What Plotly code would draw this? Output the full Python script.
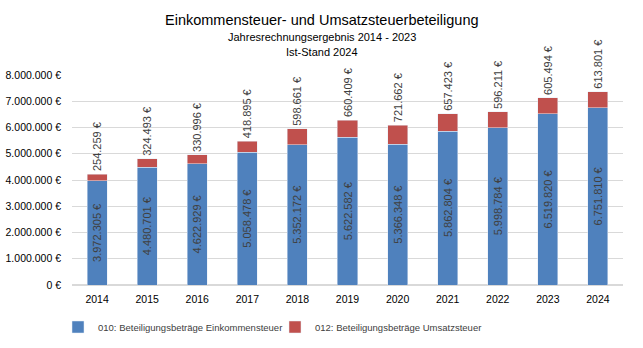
import plotly.graph_objects as go

years = ["2014", "2015", "2016", "2017", "2018", "2019", "2020", "2021", "2022", "2023", "2024"]
einkommen = [3972305, 4480701, 4622929, 5058478, 5352172, 5622582, 5366348, 5862804, 5998784, 6519820, 6751810]
umsatz = [254259, 324493, 330996, 418895, 598661, 660409, 721662, 657423, 596211, 605494, 613801]
y_ticks = [0, 1000000, 2000000, 3000000, 4000000, 5000000, 6000000, 7000000, 8000000]


def fmt(v):
    return f"{v:,}".replace(",", ".") + " €"


label_font = dict(family="Liberation Sans, Arial", size=11, color="#404040")

fig = go.Figure()
fig.add_trace(go.Bar(
    x=years, y=einkommen, name="010: Beteiligungsbeträge Einkommensteuer",
    marker_color="#4F81BD", text=[fmt(v) for v in einkommen],
    textposition="inside", insidetextanchor="middle", textangle=-90,
    textfont=label_font, constraintext="none", cliponaxis=False,
))
fig.add_trace(go.Bar(
    x=years, y=umsatz, name="012: Beteiligungsbeträge Umsatzsteuer",
    marker_color="#C0504D", text=[fmt(v) for v in umsatz],
    textposition="outside", textangle=-90,
    textfont=label_font, constraintext="none", cliponaxis=False,
))

tick_font = dict(family="Liberation Sans, Arial, sans-serif", size=10.5, color="#000000")

fig.update_layout(
    width=643, height=348,
    margin=dict(l=72, r=20, t=75, b=63, autoexpand=False),
    barmode="stack", bargap=0.6,
    paper_bgcolor="white", plot_bgcolor="white",
    showlegend=True,
    legend=dict(orientation="h", x=58 / 643, xanchor="left", xref="container",
                y=1 - 327 / 348, yanchor="middle", yref="container",
                font=dict(family="Liberation Sans, Arial", size=9.5, color="#404040"),
                itemwidth=30, entrywidth=172, traceorder="normal"),
    xaxis=dict(showgrid=False, tickfont=tick_font, showline=False, ticks="",
               ticklabelstandoff=6, automargin=False),
    yaxis=dict(range=[0, 8000000], tickvals=y_ticks, ticktext=[fmt(v) for v in y_ticks],
               gridcolor="#D9D9D9", tickfont=tick_font, zeroline=True, zerolinecolor="#D9D9D9",
               ticks="", fixedrange=True, ticklabelstandoff=10, automargin=False),
)
titles = [
    ("Einkommensteuer- und Umsatzsteuerbeteiligung", 14.5, 20),
    ("Jahresrechnungsergebnis 2014 - 2023", 11, 37),
    ("Ist-Stand 2024", 11, 52),
]
for txt, size, ypix in titles:
    fig.add_annotation(text=txt, xref="paper", yref="paper", x=(321.5 - 72) / 551,
                       y=1 + (75 - ypix) / 210, xanchor="center", yanchor="middle",
                       showarrow=False,
                       font=dict(family="Liberation Sans, Arial, sans-serif", size=size, color="#000000"))

fig.write_html("out.html")
